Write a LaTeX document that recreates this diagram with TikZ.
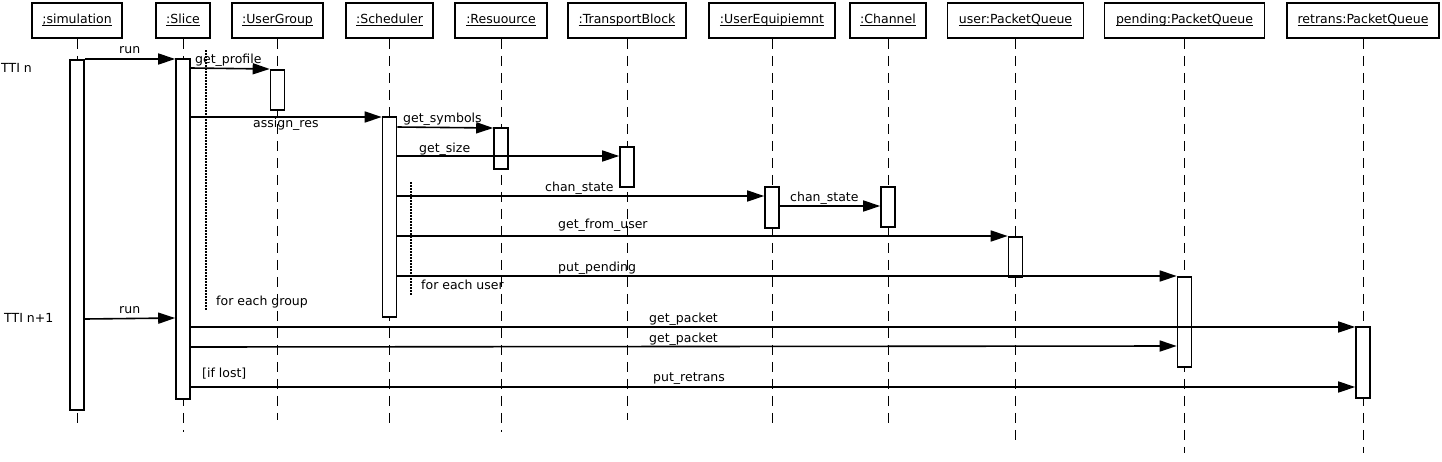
\documentclass[tikz,border=0pt]{standalone}
\usepackage{fontspec}
\setmainfont{DejaVu Sans}
\usetikzlibrary{arrows.meta,positioning}

\newcommand\objname[1]{\setbox0\hbox{#1}\rlap{\rule[-1.6pt]{\wd0}{0.7pt}}\box0}

\tikzset{
  obj/.style={draw,line width=1.9pt,minimum height=35pt,inner sep=2pt,text height=9pt,text depth=2.5pt,font=\fontsize{12.5}{14}\selectfont},
  act/.style={draw,fill=white,line width=1.6pt,minimum width=14pt,inner sep=0pt,anchor=north},
  life/.style={line width=0.9pt,dash pattern=on 10pt off 7pt},
  msg/.style={line width=1.6pt,-{Triangle[length=17pt,width=11pt]}},
  loopline/.style={line width=1.5pt,dash pattern=on 1.5pt off 1.5pt},
  lbl/.style={font=\fontsize{12.5}{14}\selectfont,inner sep=0pt,anchor=base west}
}

\begin{document}
\begin{tikzpicture}[x=1pt,y=-1pt]
\useasboundingbox (0,0) rectangle (1442,461);

% objects
\node[obj,minimum width=90pt]  (sim)    at (77,20.5)     {\objname{;simulation}};
\node[obj,minimum width=54pt]  (slice)  at (183,20.5)    {\objname{:Slice}};
\node[obj,minimum width=91pt]  (ugroup) at (277.5,20.5)  {\objname{:UserGroup}};
\node[obj,minimum width=87pt]  (sched)  at (389.5,20.5)  {\objname{:Scheduler}};
\node[obj,minimum width=92pt]  (res)    at (501,20.5)    {\objname{:Resuource}};
\node[obj,minimum width=118pt] (tblock) at (627,20.5)    {\objname{:TransportBlock}};
\node[obj,minimum width=126pt] (ue)     at (772,20.5)    {\objname{:UserEquipiemnt}};
\node[obj,minimum width=76pt]  (chan)   at (888,20.5)    {\objname{:Channel}};
\node[obj,minimum width=136pt] (userq)  at (1015.5,20.5) {\objname{user:PacketQueue}};
\node[obj,minimum width=160pt] (pendq)  at (1184.5,20.5) {\objname{pending:PacketQueue}};
\node[obj,minimum width=152pt] (retrq)  at (1363,20.5)   {\objname{retrans:PacketQueue}};

% lifelines
\draw[life] (sim.south)    -- (sim.south |- 0,428);
\draw[life] (slice.south)  -- (slice.south |- 0,432);
\draw[life] (ugroup.south) -- (ugroup.south |- 0,420);
\draw[life] (sched.south)  -- (sched.south |- 0,428);
\draw[life] (res.south)    -- (res.south |- 0,432);
\draw[life] (tblock.south) -- (tblock.south |- 0,420);
\draw[life] (ue.south)     -- (ue.south |- 0,428);
\draw[life] (chan.south)   -- (chan.south |- 0,426);
\draw[life] (userq.south)  -- (userq.south |- 0,443);
\draw[life] (pendq.south)  -- (pendq.south |- 0,453);
\draw[life] (retrq.south)  -- (retrq.south |- 0,453);

% activations
\node[act,minimum height=350pt] (simA)    at (sim.south |- 0,59)     {};
\node[act,minimum height=340pt] (sliceA)  at (slice.south |- 0,58)   {};
\node[act,minimum height=40pt]  (ugroupA) at (ugroup.south |- 0,69)  {};
\node[act,minimum height=200pt] (schedA)  at (sched.south |- 0,116)  {};
\node[act,minimum height=41pt]  (resA)    at (res.south |- 0,127)    {};
\node[act,minimum height=40pt]  (tblockA) at (tblock.south |- 0,146) {};
\node[act,minimum height=41pt]  (ueA)     at (ue.south |- 0,186)     {};
\node[act,minimum height=40pt]  (chanA)   at (chan.south |- 0,186)   {};
\node[act,minimum height=40pt]  (userqA)  at (userq.south |- 0,236)  {};
\node[act,minimum height=90pt]  (pendqA)  at (pendq.south |- 0,276)  {};
\node[act,minimum height=71pt]  (retrqA)  at (retrq.south |- 0,326)  {};

% loops
\draw[loopline] (206,50) -- (206,311);
\draw[loopline] (411,182) -- (411,296);

% messages
\draw[msg] (simA.east |- 0,59)    -- (sliceA.west |- 0,59);
\draw[msg] (sliceA.east |- 0,68)  -- (ugroupA.west |- 0,69);
\draw[msg] (sliceA.east |- 0,117) -- (schedA.west |- 0,117);
\draw[msg] (schedA.east |- 0,127) -- (resA.west |- 0,128);
\draw[msg] (schedA.east |- 0,156) -- (tblockA.west |- 0,156);
\draw[msg] (schedA.east |- 0,196) -- (ueA.west |- 0,196);
\draw[msg] (ueA.east |- 0,206)    -- (chanA.west |- 0,206);
\draw[msg] (schedA.east |- 0,236) -- (userqA.west |- 0,236);
\draw[msg] (schedA.east |- 0,276) -- (pendqA.west |- 0,276);
\draw[msg] (simA.east |- 0,319)   -- (sliceA.west |- 0,318);
\draw[msg] (sliceA.east |- 0,327) -- (retrqA.west |- 0,327);
\draw[msg] (sliceA.east |- 0,347) -- (pendqA.west |- 0,346);
\draw[msg] (sliceA.east |- 0,387) -- (retrqA.west |- 0,387);

% labels
\node[lbl] (ttiA)     at (1,72)    {TTI n};
\node[lbl] (ttiB)     at (4,322)   {TTI n+1};
\node[lbl] (runA)     at (119,53)  {run};
\node[lbl] (profile)  at (195,63)  {get\_profile};
\node[lbl] (assign)   at (253,127) {assign\_res};
\node[lbl] (symbols)  at (403,122) {get\_symbols};
\node[lbl] (size)     at (419,152) {get\_size};
\node[lbl] (stateA)   at (545,191) {chan\_state};
\node[lbl] (stateB)   at (790,201) {chan\_state};
\node[lbl] (fromuser) at (558,228) {get\_from\_user};
\node[lbl] (putpend)  at (558,271) {put\_pending};
\node[lbl] (eachuser) at (421,289) {for each user};
\node[lbl] (eachgrp)  at (216,305) {for each group};
\node[lbl] (runB)     at (119,313) {run};
\node[lbl] (packetA)  at (649,322) {get\_packet};
\node[lbl] (packetB)  at (649,342) {get\_packet};
\node[lbl] (iflost)   at (202,377) {[if lost]};
\node[lbl] (retrans)  at (653,381) {put\_retrans};
\end{tikzpicture}
\end{document}
